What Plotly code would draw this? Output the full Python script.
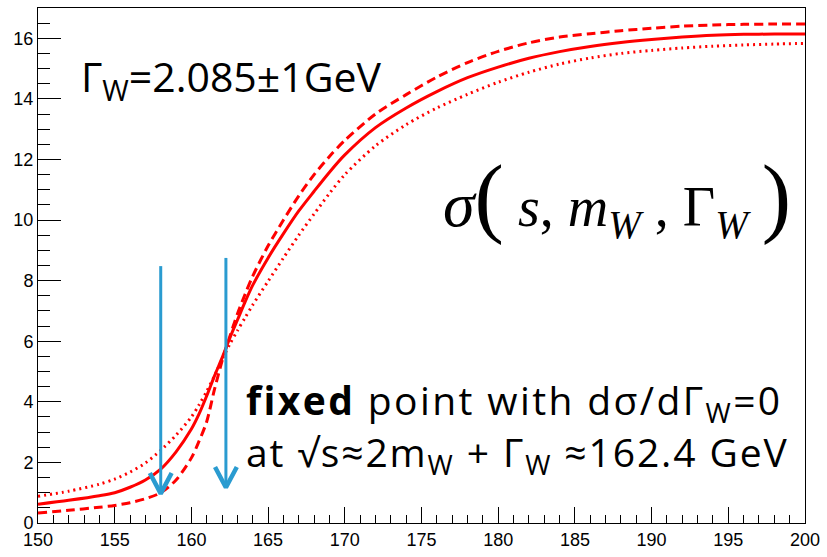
import plotly.graph_objects as go

# ---- data ----
sqrt_s = [150, 152, 154, 155, 156, 157, 158, 159, 160, 160.5, 161, 161.5, 162, 162.5, 163, 163.5, 164,
          165, 166, 167, 168, 169, 170, 172, 174, 176, 178, 180, 182, 184, 186, 188, 190, 192, 194, 196, 198, 200]
sigma_nominal = [0.62, 0.75, 0.9, 1.0, 1.18, 1.42, 1.78, 2.35, 3.1, 3.6, 4.2, 4.85, 5.45, 6.1, 6.7, 7.3, 7.85,
                 8.75, 9.55, 10.3, 10.95, 11.58, 12.15, 13.05, 13.7, 14.24, 14.7, 15.05, 15.34, 15.56, 15.73, 15.86,
                 15.96, 16.04, 16.1, 16.13, 16.14, 16.14]
sigma_minus = [0.33, 0.42, 0.52, 0.58, 0.67, 0.8, 1.0, 1.42, 2.15, 2.7, 3.35, 4.4, 5.35, 6.15, 6.9, 7.55, 8.15,
               9.15, 10.0, 10.8, 11.5, 12.1, 12.63, 13.5, 14.14, 14.72, 15.2, 15.57, 15.85, 16.04, 16.15, 16.25,
               16.33, 16.4, 16.44, 16.46, 16.47, 16.47]
sigma_plus = [0.88, 1.05, 1.28, 1.45, 1.68, 1.98, 2.4, 2.9, 3.5, 3.9, 4.35, 4.85, 5.4, 5.9, 6.35, 6.78, 7.2,
              7.98, 8.75, 9.5, 10.2, 10.88, 11.5, 12.45, 13.15, 13.7, 14.15, 14.55, 14.88, 15.15, 15.35, 15.5,
              15.6, 15.68, 15.74, 15.78, 15.81, 15.83]

arrow_x = [158.0, 162.25]
arrow_top = [8.48, 8.75]
arrow_tip = [0.97, 1.17]

x_ticks = [150, 155, 160, 165, 170, 175, 180, 185, 190, 195, 200]
y_ticks = [0, 2, 4, 6, 8, 10, 12, 14, 16]

# ---- style ----
RED = "#ff0000"
BLUE = "#2a9bd0"
head_dx = 0.71
head_dy = 0.68

fig = go.Figure()

fig.add_trace(go.Scatter(x=sqrt_s, y=sigma_plus, mode="lines",
                         line=dict(color=RED, width=3, dash="2px,4px", shape="spline", smoothing=0.8),
                         showlegend=False, hoverinfo="skip"))
fig.add_trace(go.Scatter(x=sqrt_s, y=sigma_minus, mode="lines",
                         line=dict(color=RED, width=3, dash="9px,5px", shape="spline", smoothing=0.8),
                         showlegend=False, hoverinfo="skip"))
fig.add_trace(go.Scatter(x=sqrt_s, y=sigma_nominal, mode="lines",
                         line=dict(color=RED, width=3, shape="spline", smoothing=0.8),
                         showlegend=False, hoverinfo="skip"))

for ax, top, tip in zip(arrow_x, arrow_top, arrow_tip):
    fig.add_trace(go.Scatter(x=[ax, ax], y=[top, tip], mode="lines",
                             line=dict(color=BLUE, width=3), showlegend=False, hoverinfo="skip"))
    fig.add_trace(go.Scatter(x=[ax - head_dx, ax, ax + head_dx], y=[tip + head_dy, tip, tip + head_dy],
                             mode="lines", line=dict(color=BLUE, width=4.5),
                             showlegend=False, hoverinfo="skip"))

TEXT_FONT = "Open Sans"

fig.add_annotation(x=152.7, y=14.68, xref="x", yref="y", xanchor="left", yanchor="middle",
                   text="Γ<sub>W</sub>=2.085±1GeV", showarrow=False,
                   font=dict(family=TEXT_FONT, size=41, color="black"))

fig.add_annotation(x=199.25, y=10.76, xref="x", yref="y", xanchor="right", yanchor="middle",
                   text=('<span style="font-size:64px"><i>σ</i></span><span style="font-size:88px">(</span> '
                         '<i>s</i>, <i>m</i><sub><i>W</i></sub> , '
                         'Γ<sub><i>W</i></sub> <span style="font-size:88px">)</span>'),
                   showarrow=False,
                   font=dict(family="Liberation Serif", size=56, color="black"))

fig.add_annotation(x=163.45, y=4.0, xref="x", yref="y", xanchor="left", yanchor="middle",
                   text=('<span style="letter-spacing:2.4px"><b>fixed</b> point with '
                         'dσ/dΓ<sub>W</sub>=0</span>'),
                   showarrow=False,
                   font=dict(family=TEXT_FONT, size=39, color="black"))
fig.add_annotation(x=163.45, y=2.27, xref="x", yref="y", xanchor="left", yanchor="middle",
                   text=('<span style="letter-spacing:1.9px">at √s≈2m<sub>W</sub> + Γ<sub>W</sub> '
                         '≈162.4 GeV</span>'),
                   showarrow=False,
                   font=dict(family=TEXT_FONT, size=39, color="black"))

fig.update_layout(
    width=827, height=557,
    margin=dict(l=38, r=15, t=7, b=24),
    paper_bgcolor="white", plot_bgcolor="white",
    showlegend=False,
)
fig.update_xaxes(range=[150, 200], tickvals=x_ticks, ticktext=[str(v) for v in x_ticks],
                 ticks="inside", ticklen=16, tickwidth=1, tickcolor="black",
                 minor=dict(dtick=1, ticks="inside", ticklen=8, tickcolor="black", tickwidth=1),
                 showline=True, linecolor="black", linewidth=1, mirror=True,
                 showgrid=False, zeroline=False, ticklabeloverflow="allow",
                 tickfont=dict(family="Liberation Sans", size=18, color="black"))
fig.update_yaxes(range=[0, 17], tickvals=y_ticks, ticktext=[str(v) for v in y_ticks],
                 ticks="inside", ticklen=23, tickwidth=1, tickcolor="black",
                 minor=dict(dtick=0.5, ticks="inside", ticklen=12, tickcolor="black", tickwidth=1),
                 showline=True, linecolor="black", linewidth=1, mirror=True,
                 showgrid=False, zeroline=False, ticklabeloverflow="allow",
                 tickfont=dict(family="Liberation Sans", size=18, color="black"))

fig.write_html("out.html")
